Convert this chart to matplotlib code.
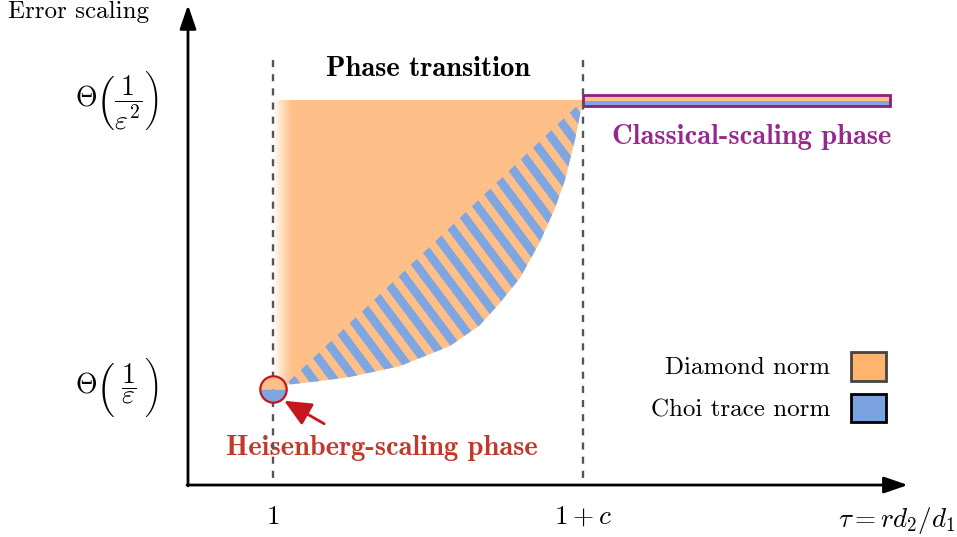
import numpy as np
import matplotlib
matplotlib.use("Agg")
import matplotlib.pyplot as plt
from matplotlib.patches import Polygon, Rectangle, Patch
from matplotlib.transforms import Bbox

plt.rcParams['font.family'] = 'serif'
plt.rcParams['font.serif'] = ['cmr10', 'DejaVu Serif']
plt.rcParams['mathtext.fontset'] = 'cm'
plt.rcParams['axes.unicode_minus'] = False

# --- data -----------------------------------------------------------------
c = 1.0                                  # 1 + c sits at tau = 2
tau_ticks = [1.0, 1.0 + c]
tau_labels = [r'$1$', r'$1+c$']
y_levels = [1.0, 2.0]                    # Theta(1/eps), Theta(1/eps^2)
y_fracs = [r'$\dfrac{1}{\varepsilon}$', r'$\dfrac{1}{\varepsilon^2}$']

# lower edge of the transition region (Choi trace norm)
curve_tau = [1.039, 1.152, 1.248, 1.410, 1.571, 1.668, 1.732, 1.797,
             1.861, 1.910, 1.942, 1.974, 2.0]
curve_y = [1.007, 1.021, 1.035, 1.073, 1.143, 1.216, 1.293, 1.380,
           1.505, 1.624, 1.721, 1.861, 2.0]

classical_tau = [2.0, 2.99]
heis_point = (1.0, 0.993)

legend_names = ['Diamond norm', 'Choi trace norm']

# colours
orange = '#FFBF88'
blue = '#7FA6E0'
orange_leg = '#FFB46E'
blue_leg = '#7BA3E0'
purple = '#8E1F7E'
red = '#C4161C'


def ink_runs(s, fs):
    """Column runs of ink of a mathtext string drawn centred at x=150 px."""
    sf = plt.figure(figsize=(3, 1.5), dpi=100)
    sf.text(0.5, 0.5, s, ha='center', va='baseline', fontsize=fs)
    sf.canvas.draw()
    arr = np.asarray(sf.canvas.buffer_rgba())[:, :, :3]
    plt.close(sf)
    ink = (arr.min(axis=2) < 200).any(axis=0)
    runs, start = [], None
    for i, v in enumerate(ink):
        if v and start is None:
            start = i
        if not v and start is not None:
            runs.append((start - 150, i - 1 - 150))
            start = None
    return runs


fig = plt.figure(figsize=(9.57, 5.37), dpi=100)
ax = fig.add_axes([0, 0, 1, 1])
ax.axis('off')
ax.set_xlim(0.1194, 3.2065)
ax.set_ylim(0.4774, 2.3484)

# --- transition region ----------------------------------------------------
top = y_levels[1]
orange_poly = [(1.0, top), (2.0, top)] + list(zip(curve_tau[::-1], curve_y[::-1])) + [(1.0, curve_y[0])]
ax.add_patch(Polygon(orange_poly, closed=True, facecolor=orange, edgecolor='none', zorder=1))

# fade on the left edge
grad = np.ones((1, 64, 4))
grad[0, :, 3] = np.linspace(1, 0, 64) ** 1.2
clip_o = Polygon(orange_poly, closed=True, transform=ax.transData, facecolor='none', edgecolor='none')
ax.add_patch(clip_o)
im = ax.imshow(grad, extent=(1.0, 1.062, curve_y[0] - 0.02, top), aspect='auto', zorder=2,
               interpolation='bilinear')
im.set_clip_path(clip_o)

# striped part between the diagonal and the curve
hatch_poly = list(zip(curve_tau, curve_y))
clip_h = Polygon(hatch_poly, closed=True, transform=ax.transData, facecolor='none', edgecolor='none')
ax.add_patch(clip_h)
sx, sy = 310.0, 287.0                    # px per data unit
period = 21.0 / sx                       # horizontal stripe period
for x0 in np.arange(-0.5, 2.6, period):
    ln, = ax.plot([x0, x0 + 500 * 3 / sx], [2.3, 2.3 - 500 * 4 / sy],
                  color=blue, lw=6.2, solid_capstyle='butt', zorder=3)
    ln.set_clip_path(clip_h)

# --- classical-scaling bar ------------------------------------------------
b0, b1, bm = 1.979, 2.017, 1.998
w = classical_tau[1] - classical_tau[0]
ax.add_patch(Rectangle((classical_tau[0], bm), w, b1 - bm, facecolor=orange, edgecolor='none', zorder=4))
ax.add_patch(Rectangle((classical_tau[0], b0), w, bm - b0, facecolor=blue, edgecolor='none', zorder=4))
ax.add_patch(Rectangle((classical_tau[0], b0), w, b1 - b0, facecolor='none', edgecolor=purple, lw=2, zorder=5))

# --- dashed phase boundaries ---------------------------------------------
for t in tau_ticks:
    ax.plot([t, t], [2.139, 0.6585], color='#555555', lw=1.7, dashes=(3.0, 3.0), zorder=6)

# --- Heisenberg point -----------------------------------------------------
ax.plot([heis_point[0]], [heis_point[1]], marker='o', ms=19, fillstyle='top',
        markerfacecolor=orange, markerfacecoloralt=blue, markeredgecolor='none', zorder=7)
ax.plot([heis_point[0]], [heis_point[1]], marker='o', ms=19, fillstyle='none',
        markeredgecolor=red, mew=1.6, zorder=7)
ax.annotate('', xy=(1.036, 0.952), xytext=(1.165, 0.872),
            arrowprops=dict(arrowstyle='-|>,head_length=1.1,head_width=0.5', color=red, lw=2,
                            mutation_scale=15, shrinkA=0, shrinkB=0), zorder=8)

# --- axes arrows ----------------------------------------------------------
x0, y0 = 0.7258, 0.6585
ax.annotate('', xy=(3.048, y0), xytext=(x0 - 0.003, y0),
            arrowprops=dict(arrowstyle='-|>,head_length=1.45,head_width=0.5', color='black', lw=2,
                            mutation_scale=10, shrinkA=0, shrinkB=0))
ax.annotate('', xy=(x0, 2.331), xytext=(x0, y0 - 0.003),
            arrowprops=dict(arrowstyle='-|>,head_length=1.45,head_width=0.5', color='black', lw=2,
                            mutation_scale=10, shrinkA=0, shrinkB=0))

# --- texts ----------------------------------------------------------------
for t, lab in zip(tau_ticks, tau_labels):
    ax.text(t, 0.547, lab, ha='center', va='center', fontsize=19.5)
ax.text(3.013, 0.535, r'$\tau = r d_2/d_1$', ha='center', va='center', fontsize=19.5)

# y labels: mathtext sizes \left( ... \right) by its content, so 1/eps would
# get short parentheses; borrow the parentheses of the 1/eps^2 layout.
fs_y = 20
label_x = 0.497
big = r'$\Theta\left(\dfrac{1}{\varepsilon^2}\right)$'
runs_big = ink_runs(big, fs_y)
runs_small = ink_runs(y_fracs[0], fs_y)
cut_l = (runs_big[-3][1] + runs_big[-2][0]) / 2          # between "(" and fraction
cut_r = (runs_big[-2][1] + runs_big[-1][0]) / 2          # between fraction and ")"
frac_mid = (runs_big[-2][0] + runs_big[-2][1]) / 2
small_mid = (runs_small[0][0] + runs_small[-1][1]) / 2
xc_px = ax.transData.transform((label_x, 0))[0]
frac_x = ax.transData.inverted().transform((xc_px + frac_mid - small_mid, 0))[0]

yb = y_levels[0] - 7 / sy
for x_lo, x_hi in [(-10, xc_px + cut_l), (xc_px + cut_r, 2000)]:
    part = ax.text(label_x, yb, big, ha='center', va='baseline', fontsize=fs_y)
    part.set_clip_box(Bbox.from_extents(x_lo, -10, x_hi, 2000))
    part.set_clip_on(True)
ax.text(frac_x, yb, y_fracs[0], ha='center', va='baseline', fontsize=fs_y)

ax.text(label_x, y_levels[1] - 7 / sy, big, ha='center', va='baseline', fontsize=fs_y)

ax.text(0.145, 2.307, 'Error scaling', ha='left', va='center', fontsize=18)

ax.text(1.5, 2.108, 'Phase transition', ha='center', va='center', fontsize=20.5,
        family='cmb10')
ax.text(2.545, 1.872, 'Classical-scaling phase', ha='center', va='center', fontsize=20.5,
        family='cmb10', color='#952A8E')
ax.text(1.352, 0.788, 'Heisenberg-scaling phase', ha='center', va='center', fontsize=20.5,
        family='cmb10', color='#C0392B')

handles = [Patch(facecolor=orange_leg, edgecolor='#444444', lw=2),
           Patch(facecolor=blue_leg, edgecolor='black', lw=2)]
ax.legend(handles, legend_names, loc='upper right', bbox_to_anchor=(0.926, 0.345),
          frameon=False, markerfirst=False, fontsize=18, handlelength=1.4, handleheight=1.4,
          labelspacing=0.52, handletextpad=0.84, borderpad=0, borderaxespad=0)

fig.savefig('out.png', dpi=100)
